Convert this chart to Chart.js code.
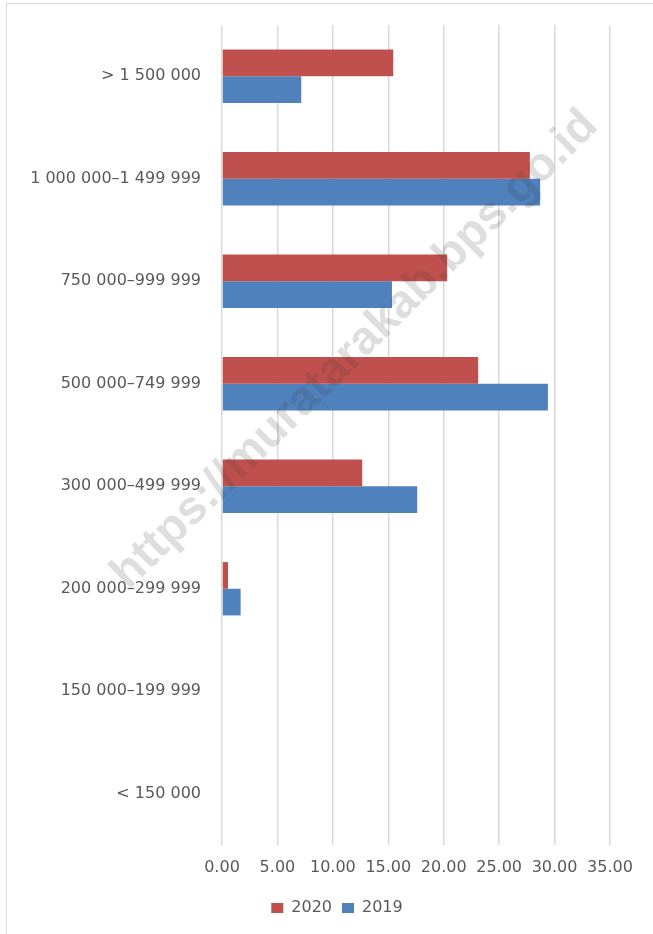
<!DOCTYPE html>
<html>
<head>
<meta charset="utf-8">
<script src="https://cdn.jsdelivr.net/npm/chart.js@4/dist/chart.umd.min.js"></script>
<style>
  html, body { margin: 0; padding: 0; background: #fff; }
  #wrap { position: relative; width: 653px; height: 934px; }
</style>
</head>
<body>
<div id="wrap"><canvas id="incomeChart" width="653" height="934"></canvas></div>
<script>
// ─── DATA ───
const incomeGroups = [
    '> 1 500 000',
    '1 000 000–1 499 999',
    '750 000–999 999',
    '500 000–749 999',
    '300 000–499 999',
    '200 000–299 999',
    '150 000–199 999',
    '< 150 000'
];
const share2020 = [15.45, 27.77, 20.31, 23.11, 12.65, 0.54, 0, 0];
const share2019 = [7.15, 28.70, 15.33, 29.40, 17.61, 1.68, 0, 0];
const xTicks = [0, 5, 10, 15, 20, 25, 30, 35];

const FONT = 'DejaVu Sans';
const TEXT = '#595959';
const GRID = '#d9d9d9';

// ─── PLUGINS ───
// outer frame of the chart box
const frame = {
    id: 'frame',
    beforeDraw(chart) {
        const { ctx } = chart;
        ctx.save();
        ctx.fillStyle = '#fff';
        ctx.fillRect(0, 0, chart.width, chart.height);
        ctx.strokeStyle = GRID;
        ctx.lineWidth = 1;
        ctx.strokeRect(6.5, 3.5, 700, 1000);
        ctx.restore();
    }
};

// legend sits centred under the whole frame, not just the plot
const legendNudge = {
    id: 'legendNudge',
    afterLayout(chart) {
        const lg = chart.legend;
        if (!lg) return;
        lg.left += 27;
        lg.right += 27;
    }
};

// diagonal site stamp over the bars
const stamp = {
    id: 'stamp',
    afterDatasetsDraw(chart) {
        const { ctx } = chart;
        ctx.save();
        ctx.translate(355, 350);
        ctx.rotate(-44.5 * Math.PI / 180);
        ctx.font = 'bold 47px "Liberation Sans", Arial, sans-serif';
        ctx.fillStyle = 'rgba(60,60,60,0.17)';
        ctx.textAlign = 'center';
        ctx.textBaseline = 'middle';
        ctx.fillText('https://muratarakab.bps.go.id', 0, 0);
        ctx.restore();
    }
};

// ─── CHART ───
new Chart(document.getElementById('incomeChart'), {
    type: 'bar',
    data: {
        labels: incomeGroups,
        datasets: [
            { label: '2020', data: share2020, backgroundColor: '#C0504D', borderWidth: 0 },
            { label: '2019', data: share2019, backgroundColor: '#4F81BD', borderWidth: 0 }
        ]
    },
    options: {
        indexAxis: 'y',
        responsive: false,
        animation: false,
        maintainAspectRatio: false,
        layout: { padding: { top: 25, right: 43, bottom: 8, left: 10 } },
        datasets: { bar: { categoryPercentage: 0.52, barPercentage: 1.0 } },
        plugins: {
            legend: {
                position: 'bottom',
                labels: {
                    boxWidth: 12, boxHeight: 10, padding: 10,
                    color: TEXT, font: { family: FONT, size: 16 }
                }
            },
            tooltip: { enabled: false }
        },
        scales: {
            x: {
                min: 0, max: 35,
                afterBuildTicks: s => { s.ticks = xTicks.map(v => ({ value: v })); },
                afterFit: s => { s.height = 45; },
                grid: { color: GRID, lineWidth: 1.5, drawTicks: false },
                border: { display: false },
                ticks: {
                    color: TEXT, padding: 13,
                    font: { family: FONT, size: 16 },
                    callback: v => v.toFixed(2)
                }
            },
            y: {
                afterFit: s => { s.width = 212; },
                // hidden tick marks keep the labels off the axis without padding the top
                grid: { display: false, drawTicks: true, tickLength: 16, color: 'transparent' },
                border: { display: false },
                ticks: { color: TEXT, padding: 5, font: { family: FONT, size: 16 } }
            }
        }
    },
    plugins: [frame, legendNudge, stamp]
});
</script>
</body>
</html>
